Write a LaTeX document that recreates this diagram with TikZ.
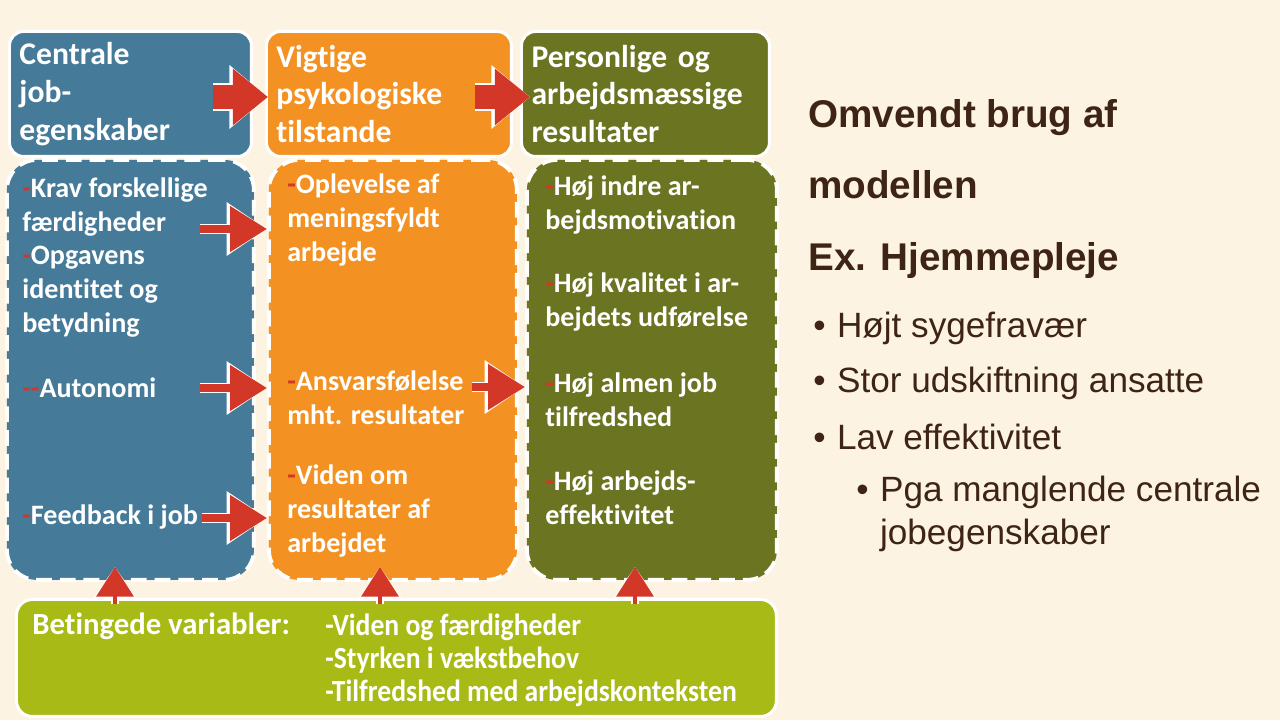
\documentclass[tikz,border=0pt]{standalone}
\usepackage{fontspec}
\setmainfont{Carlito}[Ligatures=NoCommon]
\newfontfamily\condfont{Carlito}[Ligatures=NoCommon, FakeStretch=0.9]
\newfontfamily\arialfont{Liberation Sans}
\usepackage{tikz}
\usetikzlibrary{positioning, arrows.meta, calc, fit}
\usepackage{xcolor}
\definecolor{page-bg}{RGB}{253,243,227}
\definecolor{job-blue}{RGB}{70,122,153}
\definecolor{psy-orange}{RGB}{243,146,34}
\definecolor{res-olive}{RGB}{107,116,32}
\definecolor{cond-green}{RGB}{168,186,22}
\definecolor{arrow-red}{RGB}{210,55,40}
\definecolor{text-brown}{RGB}{62,36,20}

\newcommand{\reddash}{\textcolor{arrow-red}{-}}

\tikzset{
	headbox/.style={draw=white, line width=1.7pt, rounded corners=8pt, anchor=north west,
		text=white, font=\bfseries\fontsize{18}{21.5}\selectfont, align=left,
		inner xsep=0.2cm, inner ysep=0pt, minimum height=2.5cm},
	bodybox/.style={draw=white, line width=2.2pt, dash pattern=on 9pt off 4.5pt,
		rounded corners=17pt, anchor=north west, minimum height=8.4cm},
	itemtext/.style={text=white, font=\bfseries\fontsize{16}{19.3}\selectfont,
		align=left, inner sep=0pt, anchor=west},
	condtext/.style={text=white, font=\bfseries\fontsize{17.5}{18.7}\selectfont,
		align=left, inner sep=0pt, anchor=west},
	sidetext/.style={text=text-brown, align=left, inner sep=0pt, anchor=west},
	headarrow/.style={draw=arrow-red, line width=14pt, -{Triangle[length=20pt,width=31pt]},
		preaction={draw=white, line width=16pt, -{Triangle[length=22pt,width=35pt]}}},
	itemarrow/.style={draw=arrow-red, line width=4.5pt, -{Triangle[length=21pt,width=25pt]},
		preaction={draw=white, line width=6pt, -{Triangle[length=23pt,width=29pt]}}},
	uparrow/.style={draw=arrow-red, line width=2.5pt, shorten >=-8.5pt,
		-{Triangle[length=17pt,width=21pt]},
		preaction={draw=white, line width=4pt, -{Triangle[length=19pt,width=25pt]}}},
}

\begin{document}
\begin{tikzpicture}[x=0.02cm, y=-0.02cm]
	\useasboundingbox (0,0) rectangle (1280,720);
	\fill[page-bg] (0,0) rectangle (1280,720);

	% top row
	\node[headbox, fill=job-blue, text width=4.44cm] at (8,30) (jobhead) {Centrale\\job-\\egenskaber};
	\node[headbox, fill=psy-orange, text width=4.5cm] at (265,30) (psyhead) {Vigtige\\psykologiske\\tilstande};
	\node[headbox, fill=res-olive, text width=4.56cm] at (520,30) (reshead) {Personlige og\\arbejdsmæssige\\resultater};

	% columns
	\node[bodybox, fill=job-blue, minimum width=4.94cm] at (5,158) (jobbody) {};
	\node[bodybox, fill=psy-orange, minimum width=4.96cm] at (267,158) (psybody) {};
	\node[bodybox, fill=res-olive, minimum width=5cm] at (525,158) (resbody) {};

	\node[itemtext] at (22,207) (krav) {\reddash Krav forskellige\\færdigheder};
	\node[itemtext] at (22,291.5) (opgave) {\reddash Opgavens\\identitet og\\betydning};
	\node[itemtext] at (22,388) (autonomi) {\reddash\reddash Autonomi};
	\node[itemtext] at (22,517) (feedback) {\reddash Feedback i job};

	\node[itemtext] at (287,220) (oplevelse) {\reddash Oplevelse af\\meningsfyldt\\arbejde};
	\node[itemtext] at (287,397.5) (ansvar) {\reddash Ansvarsfølelse\\mht. resultater};
	\node[itemtext] at (287,511) (viden) {\reddash Viden om\\resultater af\\arbejdet};

	\node[itemtext] at (545,205) (indre) {\reddash Høj indre ar-\\bejdsmotivation};
	\node[itemtext] at (545,302) (kvalitet) {\reddash Høj kvalitet i ar-\\bejdets udførelse};
	\node[itemtext] at (545,399.5) (almen) {\reddash Høj almen job\\tilfredshed};
	\node[itemtext] at (545,497.5) (effekt) {\reddash Høj arbejds-\\effektivitet};

	% bottom box
	\node[draw=white, line width=1.7pt, rounded corners=9pt, fill=cond-green, anchor=north west,
		minimum width=15.2cm, minimum height=2.34cm] at (15,598) (cond) {};
	\node[condtext] at (32,626) (condlabel) {Betingede variabler:};
	\node[condtext, font=\condfont\bfseries\fontsize{17.5}{18.7}\selectfont] at (325,660) (condlist) {-Viden og færdigheder\\-Styrken i vækstbehov\\-Tilfredshed med arbejdskonteksten};

	% arrows
	\draw[headarrow] ($(jobhead.east)+(-40,3)$) -- ($(psyhead.west)+(3,3)$);
	\draw[headarrow] ($(psyhead.east)+(-38,3)$) -- ($(reshead.west)+(10,3)$);

	\coordinate (a1) at (200,229);
	\coordinate (a2) at (200,388);
	\coordinate (a3) at (202,518);
	\coordinate (a4) at (472,387);
	\draw[itemarrow] (a1) -- (a1 -| psybody.west);
	\draw[itemarrow] (a2) -- (a2 -| psybody.west);
	\draw[itemarrow] (a3) -- (a3 -| psybody.west);
	\draw[itemarrow] (a4) -- (a4 -| resbody.west);

	\coordinate (u1) at (115,604);
	\coordinate (u2) at (380,604);
	\coordinate (u3) at (635,604);
	\draw[uparrow] (u1) -- (u1 |- jobbody.south);
	\draw[uparrow] (u2) -- (u2 |- psybody.south);
	\draw[uparrow] (u3) -- (u3 |- resbody.south);

	% right side
	\node[sidetext, font=\arialfont\bfseries\fontsize{22}{40.8}\selectfont] at (808,189) (title) {Omvendt brug af\\modellen\\Ex. Hjemmepleje};
	\node[sidetext, font=\arialfont\fontsize{20}{24}\selectfont] at (813,328) (syge) {•\hspace{6.5pt}Højt sygefravær};
	\node[sidetext, font=\arialfont\fontsize{20}{24}\selectfont] at (813,383) (udskift) {•\hspace{6.5pt}Stor udskiftning ansatte};
	\node[sidetext, font=\arialfont\fontsize{20}{24}\selectfont] at (813,437) (effektiv) {•\hspace{6.5pt}Lav effektivitet};
	\node[sidetext, font=\arialfont\fontsize{20}{24.4}\selectfont] at (856,513.5) (pga) {•\hspace{6.5pt}Pga manglende centrale\\\hspace*{13.5pt}jobegenskaber};
\end{tikzpicture}
\end{document}
